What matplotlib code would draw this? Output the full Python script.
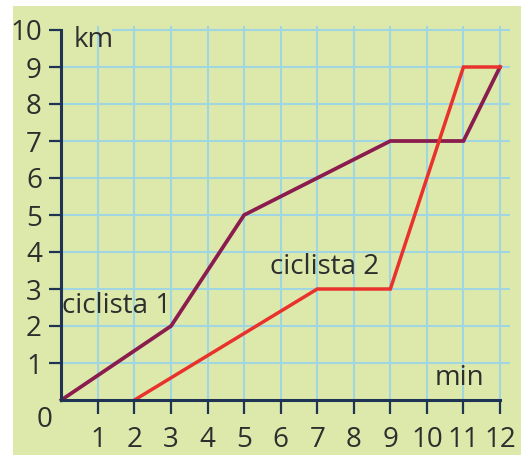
import matplotlib
matplotlib.use("Agg")
import matplotlib.pyplot as plt
from matplotlib.patches import Rectangle

# Data
c1_min = [0, 3, 5, 9, 11, 12]
c1_km = [0, 2, 5, 7, 7, 9]
c2_min = [2, 7, 9, 11, 12]
c2_km = [0, 3, 3, 9, 9]
x_ticks = [1, 2, 3, 4, 5, 6, 7, 8, 9, 10, 11, 12]
y_ticks = [1, 2, 3, 4, 5, 6, 7, 8, 9, 10]

W, H = 521, 455
fig = plt.figure(figsize=(W / 100, H / 100), dpi=100)
fig.patch.set_facecolor("white")
fig.patches.append(Rectangle((13 / W, 0), 1 - 13 / W, 1 - 6 / H,
                             transform=fig.transFigure, facecolor="#dde9ab",
                             edgecolor="none", zorder=-10))

ax = fig.add_axes([0, 0, 1, 1])
ax.set_facecolor("none")
ux, x0 = 36.55, 61.4
uy, y0 = 37.0, 400.0
ax.set_xlim(-x0 / ux, (W - x0) / ux)
ax.set_ylim(-(H - y0) / uy, y0 / uy)

grid_c = "#9fd6e2"
for yv in y_ticks:
    start = 1.38 if yv == 10 else 0
    ax.hlines(yv, start, 12.27, color=grid_c, lw=1.5, zorder=1)
for xv in x_ticks:
    ax.vlines(xv, 0, 10.1, color=grid_c, lw=1.5, zorder=1)

ax.plot(c1_min, c1_km, color="#8a1c4e", lw=2.7, solid_joinstyle="miter", zorder=3)
ax.plot(c2_min, c2_km, color="#e8322b", lw=2.5, solid_joinstyle="miter", zorder=4)

axis_c = "#1f3452"
for s in ["top", "right"]:
    ax.spines[s].set_visible(False)
ax.spines["left"].set_position(("data", 0))
ax.spines["bottom"].set_position(("data", 0))
ax.spines["left"].set_bounds(0, 10)
ax.spines["bottom"].set_bounds(0, 12)
for s in ["left", "bottom"]:
    ax.spines[s].set_color(axis_c)
    ax.spines[s].set_linewidth(2.2)
    ax.spines[s].set_zorder(5)

font = "Open Sans"
txt_c = "#2e2e2e"
fs = 20
ax.set_xticks(x_ticks)
ax.set_xticklabels([str(v) for v in x_ticks], fontsize=fs, family=font, color=txt_c)
ax.set_yticks(y_ticks)
ax.set_yticklabels([str(v) for v in y_ticks], fontsize=fs, family=font, color=txt_c)
ax.tick_params(axis="x", direction="out", length=10, width=1.6, color=axis_c, pad=9)
ax.tick_params(axis="y", direction="out", length=9, width=1.6, color=axis_c, pad=5)

ax.text(-0.45, -0.55, "0", fontsize=fs, family=font, color=txt_c, ha="center", va="center")
ax.text(0.33, 9.72, "km", fontsize=fs, family=font, color=txt_c, ha="left", va="center")
ax.text(10.2, 0.6, "min", fontsize=fs, family=font, color=txt_c, ha="left", va="center")
ax.text(0.02, 2.55, "ciclista 1", fontsize=fs, family=font, color=txt_c, ha="left", va="center")
ax.text(5.7, 3.6, "ciclista 2", fontsize=fs, family=font, color=txt_c, ha="left", va="center")

fig.savefig("out.png", dpi=100)
